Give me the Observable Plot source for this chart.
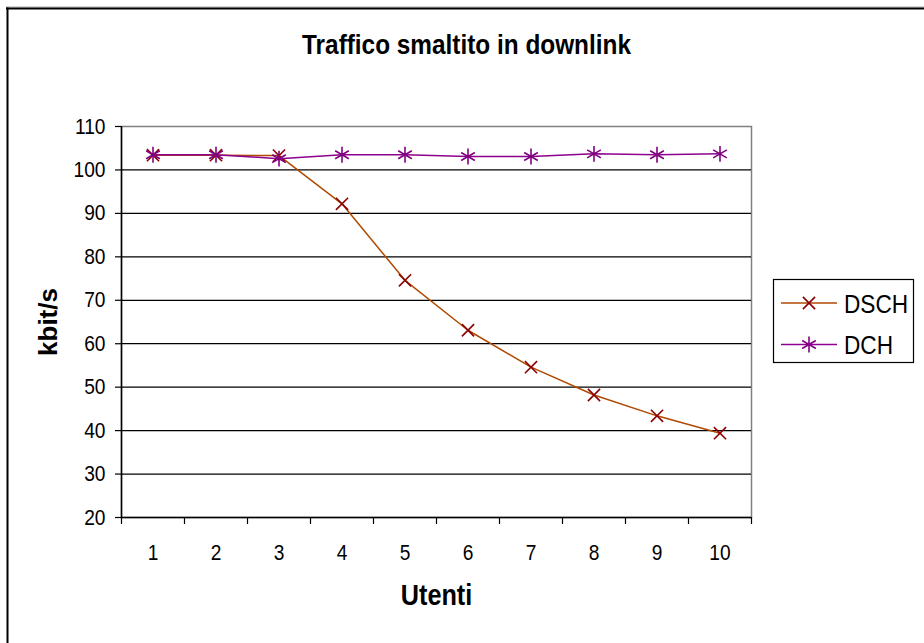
<!DOCTYPE html>
<html>
<head>
<meta charset="utf-8">
<script src="https://cdn.jsdelivr.net/npm/d3@7"></script>
<script src="https://cdn.jsdelivr.net/npm/@observablehq/plot@0.6"></script>
<style>
  html, body { margin: 0; padding: 0; background: #fff; }
  #wrap { position: relative; width: 924px; height: 643px; overflow: hidden; }
  #wrap svg { position: absolute; left: 0; top: 0; }
</style>
</head>
<body>
<div id="wrap"></div>
<script>
// ---- data ----
const users = [1, 2, 3, 4, 5, 6, 7, 8, 9, 10];
const dsch = [103.4, 103.4, 103.3, 92.2, 74.6, 63.1, 54.6, 48.2, 43.4, 39.4];
const dch  = [103.5, 103.5, 102.6, 103.5, 103.5, 103.1, 103.1, 103.7, 103.5, 103.7];
const seriesNames = ["DSCH", "DCH"];
const yTicks = [20, 30, 40, 50, 60, 70, 80, 90, 100, 110];
const gridValues = [30, 40, 50, 60, 70, 80, 90, 100];
const categoryBounds = [0.5, 1.5, 2.5, 3.5, 4.5, 5.5, 6.5, 7.5, 8.5, 9.5, 10.5];
const titleText = "Traffico smaltito in downlink";
const xLabel = "Utenti";
const yLabel = "kbit/s";

const dschColorLine = "#B04A00", dschColorMark = "#8B0000";
const dchColorLine = "#8E008E", dchColorMark = "#800080";

const dschData = users.map((u, i) => ({u, v: dsch[i]}));
const dchData = users.map((u, i) => ({u, v: dch[i]}));

const font = "'Liberation Sans', Arial, sans-serif";

const chart = Plot.plot({
  width: 924, height: 643,
  marginLeft: 121, marginRight: 173, marginTop: 126, marginBottom: 126,
  x: {domain: [0.5, 10.5]},
  y: {domain: [20, 110]},
  style: {fontFamily: font, background: "transparent", color: "#000"},
  marks: [
    Plot.frame({stroke: "#808080", strokeWidth: 1.5}),
    Plot.ruleY(gridValues, {stroke: "#000", strokeWidth: 1.2}),
    Plot.ruleX([0.5], {stroke: "#000", strokeWidth: 1.5}),
    Plot.ruleY([20], {stroke: "#000", strokeWidth: 1.5}),
    Plot.axisY({ticks: yTicks, tickSize: 6, tickFormat: () => "", label: null, stroke: "#000", strokeWidth: 1.2}),
    Plot.axisX({ticks: categoryBounds, tickSize: 7, tickFormat: () => "", label: null, stroke: "#000", strokeWidth: 1.2}),
    Plot.text(yTicks, {x: () => 0.5, y: d => d, dx: -16, textAnchor: "end", lineAnchor: "middle", fontSize: 22, fill: "#000"}),
    Plot.text(users, {x: d => d, y: () => 20, dy: 35, textAnchor: "middle", lineAnchor: "middle", fontSize: 22, fill: "#000"}),
    Plot.line(dschData, {x: "u", y: "v", stroke: dschColorLine, strokeWidth: 1.5}),
    Plot.dot(dschData, {x: "u", y: "v", symbol: "times", r: 5.6, stroke: dschColorMark, strokeWidth: 1.6}),
    Plot.line(dchData, {x: "u", y: "v", stroke: dchColorLine, strokeWidth: 1.5}),
    Plot.dot(dchData, {x: "u", y: "v", symbol: "asterisk", r: 7.5, stroke: dchColorMark, strokeWidth: 1.6}),
    Plot.text([titleText], {frameAnchor: "top", dx: 30, dy: -81, textAnchor: "middle", lineAnchor: "middle", fontSize: 28, fontWeight: "bold", fill: "#000"}),
    Plot.text([xLabel], {frameAnchor: "bottom", dx: 0, dy: 78, textAnchor: "middle", lineAnchor: "middle", fontSize: 29, fontWeight: "bold", fill: "#000"}),
    Plot.text([yLabel], {frameAnchor: "left", dx: -73, dy: 0, rotate: -90, textAnchor: "middle", lineAnchor: "middle", fontSize: 26, fontWeight: "bold", fill: "#000"})
  ]
});

const wrap = document.getElementById("wrap");
wrap.appendChild(chart);

// overlay: outer border and legend
const ov = d3.select(wrap).append("svg")
  .attr("width", 924).attr("height", 643)
  .style("font-family", font);
ov.append("line").attr("x1", 6).attr("x2", 924).attr("y1", 7).attr("y2", 7).attr("stroke", "#aaa").attr("stroke-width", 1);
ov.append("line").attr("x1", 6).attr("x2", 924).attr("y1", 8.5).attr("y2", 8.5).attr("stroke", "#000").attr("stroke-width", 2);
ov.append("line").attr("x1", 7.5).attr("x2", 7.5).attr("y1", 7.5).attr("y2", 643).attr("stroke", "#000").attr("stroke-width", 2);

const lg = ov.append("g");
lg.append("rect").attr("x", 773.5).attr("y", 279.5).attr("width", 140).attr("height", 83)
  .attr("fill", "#fff").attr("stroke", "#000").attr("stroke-width", 1.2);
const legendItems = [
  {name: seriesNames[0], line: dschColorLine, mark: dschColorMark, sym: d3.symbolTimes, r: 5.6},
  {name: seriesNames[1], line: dchColorLine, mark: dchColorMark, sym: d3.symbolAsterisk, r: 7.5}
];
legendItems.forEach((it, i) => {
  const cy = 303 + i * 41.5;
  lg.append("line").attr("x1", 781).attr("x2", 837).attr("y1", cy).attr("y2", cy)
    .attr("stroke", it.line).attr("stroke-width", 1.5);
  lg.append("path").attr("d", d3.symbol(it.sym, Math.PI * it.r * it.r)())
    .attr("transform", `translate(809,${cy})`)
    .attr("fill", "none").attr("stroke", it.mark).attr("stroke-width", 1.6);
  lg.append("text").attr("x", 844).attr("y", cy + 9.5).attr("font-size", 26).attr("fill", "#000").text(it.name);
});

// condense horizontal text as in the reference
const cond = 0.87;
wrap.querySelectorAll("svg text").forEach(t => {
  const tr = t.getAttribute("transform") || "";
  if (tr.includes("rotate")) return;
  const L = t.getComputedTextLength();
  if (L > 0) {
    t.setAttribute("textLength", (L * cond).toFixed(2));
    t.setAttribute("lengthAdjust", "spacingAndGlyphs");
  }
});
</script>
</body>
</html>
